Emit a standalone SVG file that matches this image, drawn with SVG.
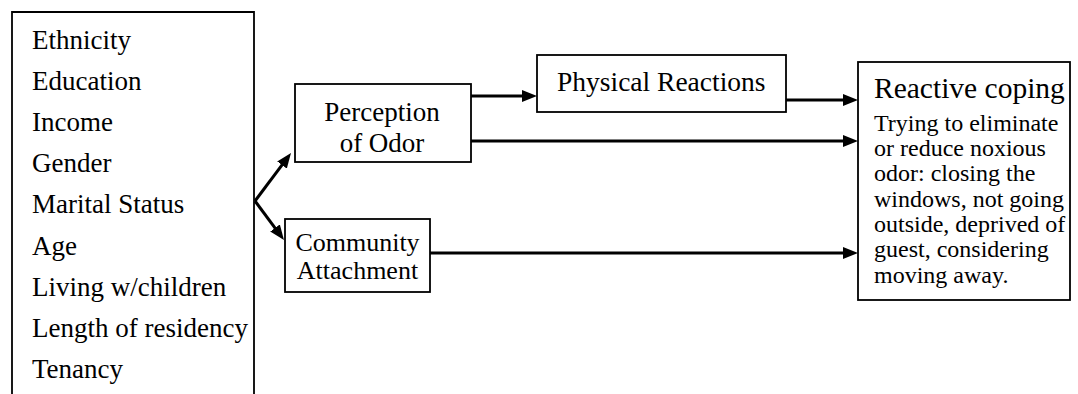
<svg xmlns="http://www.w3.org/2000/svg" width="1078" height="394" viewBox="0 0 1078 394">
<defs>
<marker id="ah" markerUnits="userSpaceOnUse" markerWidth="15" markerHeight="12" refX="7" refY="6" orient="auto">
<path d="M0,0 L15,6 L0,12 z" fill="#000"/>
</marker>
<style>
.box{fill:#fff;stroke:#000;stroke-width:1.8}
.t{font-family:"Liberation Serif","Times New Roman",serif;fill:#000}
.big{font-size:27px}
.sm{font-size:24px}
.c{stroke:#000;stroke-width:3;fill:none;marker-end:url(#ah)}
</style>
</defs>
<rect width="1078" height="394" fill="#fff"/>
<g id="demographics">
<path d="M12,394 V12 H254 V394" fill="none" stroke="#000" stroke-width="1.8"/>
<text class="t big" x="32" y="48.5">Ethnicity</text>
<text class="t big" x="32" y="89.7">Education</text>
<text class="t big" x="32" y="130.9">Income</text>
<text class="t big" x="32" y="172.1">Gender</text>
<text class="t big" x="32" y="213.3">Marital Status</text>
<text class="t big" x="32" y="254.5">Age</text>
<text class="t big" x="32" y="295.7">Living w/children</text>
<text class="t big" x="32" y="336.9">Length of residency</text>
<text class="t big" x="32" y="378.1">Tenancy</text>
</g>
<g id="perception">
<rect class="box" x="295" y="84" width="176" height="78"/>
<text class="t big" x="382" y="120.5" text-anchor="middle">Perception</text>
<text class="t big" x="382" y="152" text-anchor="middle">of Odor</text>
</g>
<g id="community">
<rect class="box" x="285" y="219" width="145" height="73"/>
<text class="t" font-size="26" x="357.5" y="250.5" text-anchor="middle">Community</text>
<text class="t" font-size="26" x="357.5" y="278.5" text-anchor="middle">Attachment</text>
</g>
<g id="physical">
<rect class="box" x="537" y="55" width="249" height="57"/>
<text class="t" font-size="27.5" x="557" y="91">Physical Reactions</text>
</g>
<g id="coping">
<rect class="box" x="858" y="62" width="212" height="238"/>
<text class="t" font-size="29.5" x="874" y="98">Reactive coping</text>
<text class="t sm" x="874" y="130.5">Trying to eliminate</text>
<text class="t sm" x="874" y="155.8">or reduce noxious</text>
<text class="t sm" x="874" y="181.2">odor: closing the</text>
<text class="t sm" x="874" y="206.5">windows, not going</text>
<text class="t sm" x="874" y="231.8">outside, deprived of</text>
<text class="t sm" x="874" y="257.2">guest, considering</text>
<text class="t sm" x="874" y="282.5">moving away.</text>
</g>
<g id="connectors">
<path class="c" d="M255,201 L286.2,159.4"/>
<path class="c" d="M255,201 L279.2,233.6"/>
<path class="c" d="M471,96 H529"/>
<path class="c" d="M786,100 H850"/>
<path class="c" d="M471,141 H850"/>
<path class="c" d="M430,253 H850"/>
</g>
</svg>
